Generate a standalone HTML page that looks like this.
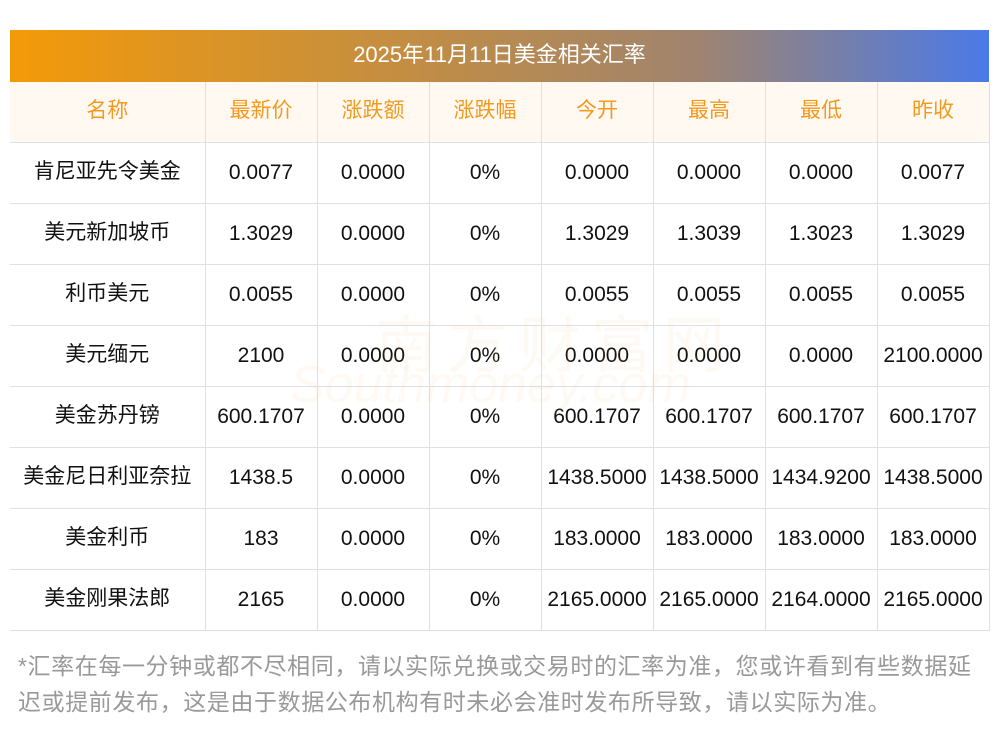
<!DOCTYPE html>
<html><head><meta charset="utf-8"><style>
*{margin:0;padding:0;box-sizing:border-box}
body{width:1000px;height:733px;background:#fff;font-family:"Liberation Sans","Noto Sans CJK SC",sans-serif;position:relative;overflow:hidden}
.title{position:absolute;left:10px;top:30px;width:979px;height:52px;background:linear-gradient(90deg,#f39a08,#a0846e 70%,#4a7ae8);color:#fff;font-size:22px;text-align:center;line-height:50px}
table{position:absolute;left:10px;top:82px;border-collapse:collapse;width:979px;table-layout:fixed}
td,th{border:1px solid #dde0e8;height:61px;text-align:center;font-size:21px;font-weight:normal;color:#111;padding:0;white-space:nowrap}
td span{position:relative;top:-3px}
td{padding-top:0}
tr td:first-child,tr th:first-child{border-left:none}
th{background:#fff9f2;color:#f39a1e;height:60px}
th span{position:relative;top:-3px}
tr:first-child th{border-top:none}
.wm{position:absolute;left:375px;top:295px;font-size:62px;color:rgba(240,190,120,0.09);letter-spacing:10px}
.wm2{position:absolute;left:290px;top:355px;font-size:52px;color:rgba(240,190,120,0.09);font-style:italic}
.foot{position:absolute;left:18px;top:648px;font-size:23px;color:#999;line-height:36px;letter-spacing:0.6px}
</style></head><body>
<div class="title">2025年11月11日美金相关汇率</div>
<table>
<colgroup><col style="width:195px"><col style="width:112px"><col style="width:112px"><col style="width:112px"><col style="width:112px"><col style="width:112px"><col style="width:112px"><col style="width:112px"></colgroup>
<tr><th><span>名称</span></th><th><span>最新价</span></th><th><span>涨跌额</span></th><th><span>涨跌幅</span></th><th><span>今开</span></th><th><span>最高</span></th><th><span>最低</span></th><th><span>昨收</span></th></tr>
<tr><td><span>肯尼亚先令美金</span></td><td>0.0077</td><td>0.0000</td><td>0%</td><td>0.0000</td><td>0.0000</td><td>0.0000</td><td>0.0077</td></tr>
<tr><td><span>美元新加坡币</span></td><td>1.3029</td><td>0.0000</td><td>0%</td><td>1.3029</td><td>1.3039</td><td>1.3023</td><td>1.3029</td></tr>
<tr><td><span>利币美元</span></td><td>0.0055</td><td>0.0000</td><td>0%</td><td>0.0055</td><td>0.0055</td><td>0.0055</td><td>0.0055</td></tr>
<tr><td><span>美元缅元</span></td><td>2100</td><td>0.0000</td><td>0%</td><td>0.0000</td><td>0.0000</td><td>0.0000</td><td>2100.0000</td></tr>
<tr><td><span>美金苏丹镑</span></td><td>600.1707</td><td>0.0000</td><td>0%</td><td>600.1707</td><td>600.1707</td><td>600.1707</td><td>600.1707</td></tr>
<tr><td><span>美金尼日利亚奈拉</span></td><td>1438.5</td><td>0.0000</td><td>0%</td><td>1438.5000</td><td>1438.5000</td><td>1434.9200</td><td>1438.5000</td></tr>
<tr><td><span>美金利币</span></td><td>183</td><td>0.0000</td><td>0%</td><td>183.0000</td><td>183.0000</td><td>183.0000</td><td>183.0000</td></tr>
<tr><td><span>美金刚果法郎</span></td><td>2165</td><td>0.0000</td><td>0%</td><td>2165.0000</td><td>2165.0000</td><td>2164.0000</td><td>2165.0000</td></tr>
</table>
<div class="wm">南方财富网</div>
<div class="wm2">Southmoney.com</div>
<div class="foot">*汇率在每一分钟或都不尽相同，请以实际兑换或交易时的汇率为准，您或许看到有些数据延<br>迟或提前发布，这是由于数据公布机构有时未必会准时发布所导致，请以实际为准。</div>
</body></html>
